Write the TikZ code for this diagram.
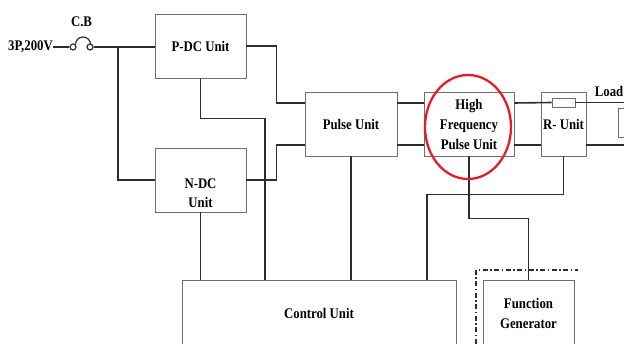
\documentclass[tikz,border=0pt]{standalone}
\usepackage{fontspec}
\setmainfont{Liberation Serif}[FakeStretch=0.87]
\usepackage{tikz}
\usetikzlibrary{positioning}
\definecolor{wirecol}{RGB}{45,45,45}
\definecolor{boxcol}{RGB}{110,110,110}
\definecolor{markred}{RGB}{228,30,36}

\begin{document}
\begin{tikzpicture}[x=1pt,y=-1pt,font=\bfseries\fontsize{14.7}{20}\selectfont,
  unitbox/.style={draw=boxcol,line width=0.9pt,align=center,inner sep=0pt},
  wire/.style={draw=wirecol,line width=1.6pt}]
  \useasboundingbox (0,0) rectangle (624,344);
  \clip (0,0) rectangle (624,344);

  % blocks
  \node[unitbox,minimum width=91pt,minimum height=64pt] (pdc) at (200.5,46) {P-DC Unit};
  \node[unitbox,minimum width=91pt,minimum height=64pt] (ndc) at (200.5,180) {};
  \node[align=center,inner sep=0pt,below=-1pt of ndc.center] (ndctext) {N-DC\\[-1pt]Unit};
  \node[unitbox,minimum width=92pt,minimum height=64pt] (pulse) at (351,124) {Pulse Unit};
  \node[unitbox,minimum width=90pt,minimum height=64pt] (hfp) at (469,124) {High\\Frequency\\Pulse Unit};
  \node[unitbox,minimum width=45pt,minimum height=64pt] (runit) at (563.5,124) {R- Unit};
  \node[unitbox,minimum width=274pt,minimum height=66pt] (ctrl) at (319,313) {Control Unit};
  \node[unitbox,minimum width=91pt,minimum height=66pt] (fgen) at (528.5,313) {Function\\Generator};
  \node[unitbox,fill=white,minimum width=23pt,minimum height=9pt] (resistor) at (563.5,102.5) {};
  \node[unitbox,minimum width=24pt,minimum height=29pt] (load) at (630,122.5) {};

  % labels
  \node[anchor=east,inner sep=0pt] (src) at (53,47) {3P,200V};
  \node[inner sep=0pt] (cblabel) at (81.5,22) {C.B};
  \node[anchor=east,inner sep=0pt] (loadlabel) at (623.5,91) {Load};

  % breaker
  \node[circle,draw=wirecol,line width=1.2pt,minimum size=6pt,inner sep=0pt] (cb1) at (73,47) {};
  \node[circle,draw=wirecol,line width=1.2pt,minimum size=6pt,inner sep=0pt] (cb2) at (90,47) {};
  \draw[wire,line width=1.2pt] (cb1.north east) arc[start angle=180,end angle=360,radius=7.5];
  \draw[wire] (src.east) -- (cb1.west);
  \draw[wire] (cb2.east) -- (pdc.west |- cb2);
  \coordinate (jin) at (118,47);
  \draw[wire] (jin) |- (ndc.west);

  % DC units to pulse unit
  \draw[wire] (pdc.east) -- ++(30,0) |- ([yshift=21pt]pulse.west);
  \draw[wire] (ndc.east) -- ++(30,0) |- ([yshift=-21pt]pulse.west);
  \draw[wire] (pdc.south) -- ++(0,40) -| ([xshift=-54pt]ctrl.north);
  \draw[wire] (ndc.south) -- (ndc.south |- ctrl.north);
  \draw[wire] (pulse.south) -- (pulse.south |- ctrl.north);

  % pulse chain
  \draw[wire] ([yshift=21pt]pulse.east) -- ([yshift=21pt]hfp.west);
  \draw[wire] ([yshift=-21pt]pulse.east) -- ([yshift=-21pt]hfp.west);
  \draw[wire] ([yshift=21pt]hfp.east) -- (resistor.west);
  \draw[wire] ([yshift=-21pt]hfp.east) -- ([yshift=-21pt]runit.west);
  \coordinate (loadtop) at (640,102.5);
  \coordinate (loadbot) at (640,145);
  \draw[wire] (resistor.east) -- (loadtop);
  \draw[wire] ([yshift=-21pt]runit.east) -- (loadbot);

  % control lines
  \draw[wire] (runit.south) -- ++(0,38) -| ([xshift=108pt]ctrl.north);
  \draw[wire] (hfp.south) -- ++(0,62) -| (fgen.north);

  % function generator frame
  \draw[wirecol,line width=1.3pt,dash pattern=on 5pt off 2.5pt on 1.5pt off 2.5pt] (476,344) |- (578,270);

  % highlight
  \draw[markred,line width=2.3pt] (468,127) ellipse[x radius=43,y radius=52];
\end{tikzpicture}
\end{document}
